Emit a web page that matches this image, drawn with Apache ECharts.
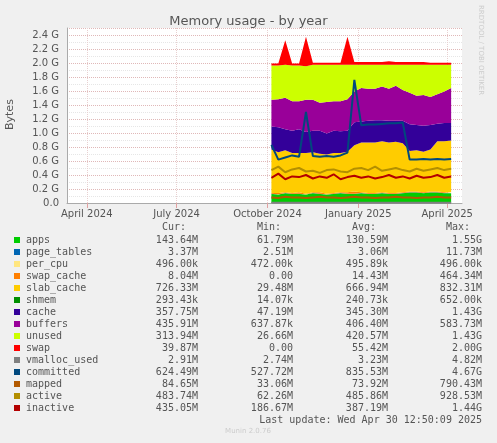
<!DOCTYPE html>
<html>
<head>
<meta charset="utf-8">
<title>Memory usage - by year</title>
<script src="https://cdn.jsdelivr.net/npm/echarts@6/dist/echarts.min.js"></script>
<style>html,body{margin:0;padding:0;background:#F0F0F0;}#chart{width:497px;height:443px;}</style>
</head>
<body>
<div id="chart"></div>
<script>
// weekly samples, values in G
var dates = ['2024-10-05','2024-10-12','2024-10-19','2024-10-26','2024-11-02','2024-11-09','2024-11-16','2024-11-23','2024-11-30',
	'2024-12-07','2024-12-14','2024-12-21','2024-12-28','2025-01-04','2025-01-11','2025-01-18','2025-01-25','2025-02-01',
	'2025-02-08','2025-02-15','2025-02-22','2025-03-01','2025-03-08','2025-03-15','2025-03-22','2025-03-29','2025-04-05'];
var apps = [0.13,0.12,0.14,0.13,0.13,0.12,0.14,0.13,0.12,0.13,0.14,0.13,0.13,0.14,0.13,0.13,0.14,0.13,0.13,0.14,0.15,0.15,0.14,0.15,0.15,0.14,0.14];
var pageTables = [0.003,0.003,0.003,0.003,0.003,0.003,0.003,0.003,0.003,0.003,0.003,0.003,0.003,0.003,0.003,0.003,0.003,0.003,0.003,0.003,0.003,0.003,0.003,0.003,0.003,0.003,0.003];
var perCpu = [0.0005,0.0005,0.0005,0.0005,0.0005,0.0005,0.0005,0.0005,0.0005,0.0005,0.0005,0.0005,0.0005,0.0005,0.0005,0.0005,0.0005,0.0005,0.0005,0.0005,0.0005,0.0005,0.0005,0.0005,0.0005,0.0005,0.0005];
var swapCache = [0.01,0.02,0.01,0.01,0.02,0.01,0.01,0.02,0.01,0.01,0.01,0.02,0.03,0.01,0.01,0.01,0.01,0.01,0.01,0.01,0.01,0.01,0.01,0.01,0.01,0.01,0.01];
var slabCache = [0.62,0.58,0.60,0.57,0.56,0.58,0.57,0.55,0.56,0.57,0.56,0.58,0.66,0.71,0.72,0.72,0.73,0.72,0.73,0.70,0.58,0.59,0.58,0.60,0.72,0.73,0.74];
var shmem = [0.0002,0.0002,0.0002,0.0002,0.0002,0.0002,0.0002,0.0002,0.0002,0.0002,0.0002,0.0002,0.0002,0.0002,0.0002,0.0002,0.0002,0.0002,0.0002,0.0002,0.0002,0.0002,0.0002,0.0002,0.0002,0.0002,0.0002];
var cache = [0.33,0.36,0.30,0.32,0.34,0.30,0.31,0.33,0.30,0.32,0.31,0.30,0.33,0.30,0.31,0.32,0.30,0.31,0.30,0.32,0.38,0.36,0.37,0.35,0.25,0.26,0.25];
var buffers = [0.38,0.40,0.45,0.42,0.40,0.46,0.44,0.40,0.45,0.42,0.43,0.45,0.44,0.48,0.46,0.45,0.48,0.46,0.50,0.44,0.45,0.42,0.44,0.40,0.42,0.45,0.50];
var unused = [0.49,0.48,0.47,0.51,0.51,0.48,0.50,0.54,0.53,0.52,0.52,0.49,0.38,0.33,0.34,0.34,0.31,0.34,0.30,0.36,0.40,0.44,0.43,0.46,0.42,0.38,0.33];
var swap = [0.03,0.03,0.35,0.03,0.03,0.42,0.03,0.03,0.03,0.03,0.03,0.40,0.04,0.04,0.04,0.04,0.04,0.05,0.04,0.04,0.04,0.04,0.04,0.03,0.03,0.03,0.03];
var vmallocUsed = [0.003,0.003,0.003,0.003,0.003,0.003,0.003,0.003,0.003,0.003,0.003,0.003,0.003,0.003,0.003,0.003,0.003,0.003,0.003,0.003,0.003,0.003,0.003,0.003,0.003,0.003,0.003];
var committed = [0.83,0.62,0.65,0.68,0.66,1.30,0.67,0.66,0.67,0.66,0.68,0.72,1.76,1.11,1.12,1.12,1.13,1.14,1.14,1.15,0.62,0.62,0.63,0.62,0.63,0.62,0.63];
var mapped = [0.08,0.07,0.09,0.08,0.08,0.07,0.08,0.09,0.08,0.08,0.07,0.08,0.09,0.08,0.08,0.07,0.08,0.08,0.09,0.08,0.08,0.07,0.08,0.08,0.09,0.08,0.08];
var active = [0.47,0.52,0.44,0.48,0.50,0.45,0.46,0.43,0.47,0.48,0.45,0.44,0.49,0.50,0.47,0.52,0.46,0.48,0.50,0.47,0.45,0.49,0.46,0.48,0.50,0.47,0.49];
var inactive = [0.36,0.42,0.34,0.38,0.37,0.40,0.35,0.38,0.36,0.41,0.34,0.37,0.39,0.36,0.38,0.35,0.37,0.40,0.36,0.38,0.35,0.39,0.36,0.37,0.40,0.36,0.38];

var xTickDates = ['2024-04-01','2024-07-01','2024-10-01','2025-01-01','2025-04-01'];
var xTickLabels = ['April 2024','July 2024','October 2024','January 2025','April 2025'];

var names = ['apps','page_tables','per_cpu','swap_cache','slab_cache','shmem','cache','buffers','unused','swap','vmalloc_used','committed','mapped','active','inactive'];
var colors = ['#00CC00','#0066B3','#FFE680','#FF8000','#FFCC00','#008F00','#330099','#990099','#CCFF00','#FF0000','#808080','#00487D','#B35A00','#B38F00','#B30000'];
var curVals = ['143.64M','3.37M','496.00k','8.04M','726.33M','293.43k','357.75M','435.91M','313.94M','39.87M','2.91M','624.49M','84.65M','483.74M','435.05M'];
var minVals = ['61.79M','2.51M','472.00k','0.00','29.48M','14.07k','47.19M','637.87k','26.66M','0.00','2.74M','527.72M','33.06M','62.26M','186.67M'];
var avgVals = ['130.59M','3.06M','495.89k','14.43M','666.94M','240.73k','345.30M','406.40M','420.57M','55.42M','3.23M','835.53M','73.92M','485.86M','387.19M'];
var maxVals = ['1.55G','11.73M','496.00k','464.34M','832.31M','652.00k','1.43G','583.73M','1.43G','2.00G','4.82M','4.67G','790.43M','928.53M','1.44G'];

var ts = function (s) { return Date.parse(s + 'T00:00:00Z'); };
var WEEK = 7 * 24 * 3600 * 1000;
var xMin = ts('2024-03-12'), xMax = ts('2025-04-16');
var tickTs = xTickDates.map(ts);

var stacked = [apps,pageTables,perCpu,swapCache,slabCache,shmem,cache,buffers,unused,swap];
var lines = [vmallocUsed,committed,mapped,active,inactive];

var series = [];
stacked.forEach(function (arr, i) {
	series.push({
		name: names[i], type: 'line', stack: 'mem', symbol: 'none', xAxisIndex: 0,
		lineStyle: {width: 0}, areaStyle: {color: colors[i], opacity: 1},
		data: dates.map(function (d, j) { return [ts(d), arr[j]]; })
	});
});
lines.forEach(function (arr, i) {
	var k = stacked.length + i;
	series.push({
		name: names[k], type: 'line', symbol: 'none', xAxisIndex: 0,
		lineStyle: {width: 2, color: colors[k]},
		data: dates.map(function (d, j) { return [ts(d), arr[j]]; })
	});
});

var mono = 'DejaVu Sans Mono';
var gfx = [];
var colX = [198, 293, 388, 482];
['Cur:','Min:','Avg:','Max:'].forEach(function (h, i) {
	gfx.push({type: 'text', x: colX[i] - 12, y: 222, style: {text: h, font: '10px ' + mono, fill: '#555', align: 'right'}});
});
names.forEach(function (n, i) {
	var y = 235 + i * 12;
	gfx.push({type: 'rect', shape: {x: 14, y: y + 2, width: 6, height: 6}, style: {fill: colors[i]}});
	gfx.push({type: 'text', x: 26, y: y, style: {text: n, font: '10px ' + mono, fill: '#555'}});
	[curVals, minVals, avgVals, maxVals].forEach(function (arr, c) {
		gfx.push({type: 'text', x: colX[c], y: y, style: {text: arr[i], font: '10px ' + mono, fill: '#555', align: 'right'}});
	});
});
gfx.push({type: 'text', x: 482, y: 415, style: {text: 'Last update: Wed Apr 30 12:50:09 2025', font: '10px ' + mono, fill: '#555', align: 'right'}});
gfx.push({type: 'text', x: 248, y: 428, style: {text: 'Munin 2.0.76', font: '7px DejaVu Sans', fill: '#ccc', align: 'center'}});
gfx.push({type: 'text', x: 484, y: 5, rotation: -Math.PI / 2, style: {text: 'RRDTOOL / TOBI OETIKER', font: '7px DejaVu Sans', fill: '#ccc'}});
gfx.push({type: 'text', x: 5, y: 130, rotation: Math.PI / 2, style: {text: 'Bytes', font: '11px DejaVu Sans', fill: '#555'}});

var myChart = echarts.init(document.getElementById('chart'));
var option = {
	animation: false,
	backgroundColor: '#F0F0F0',
	title: {text: 'Memory usage - by year', left: 'center', top: 10, textStyle: {fontFamily: 'DejaVu Sans', fontSize: 13, fontWeight: 'normal', color: '#555'}},
	grid: {left: 67, right: 35, top: 28, bottom: 240, backgroundColor: '#fff', show: true, borderWidth: 0},
	xAxis: [{
		type: 'time', min: xMin, max: xMax,
		axisLine: {show: false}, axisTick: {show: false}, axisLabel: {show: false},
		splitLine: {show: false}
	}, {
		type: 'value', min: xMin, max: xMax, interval: WEEK, position: 'bottom',
		axisLine: {lineStyle: {color: '#aaa'}},
		axisTick: {customValues: tickTs, lineStyle: {color: '#e0a0a0'}},
		axisLabel: {
			customValues: tickTs,
			formatter: function (v) { var i = tickTs.indexOf(v); return i >= 0 ? xTickLabels[i] : ''; },
			fontFamily: 'DejaVu Sans', fontSize: 10, color: '#555', margin: 6
		},
		splitLine: {show: true, lineStyle: {color: '#e8d0d0', type: 'dotted'}}
	}],
	yAxis: {
		type: 'value', min: 0, max: 2.5, interval: 0.2,
		axisLine: {show: true, lineStyle: {color: '#aaa'}},
		axisTick: {show: false},
		axisLabel: {
			showMaxLabel: false, fontFamily: 'DejaVu Sans', fontSize: 10, color: '#555',
			formatter: function (v) { return v === 0 ? '0.0' : v.toFixed(1) + ' G'; }
		},
		splitLine: {lineStyle: {color: '#e0b8b8', type: 'dotted'}},
		minorTick: {show: false, splitNumber: 2},
		minorSplitLine: {show: true, lineStyle: {color: '#e6e6e6', type: 'dotted'}}
	},
	graphic: gfx,
	series: series
};
myChart.setOption(option);
</script>
</body>
</html>
